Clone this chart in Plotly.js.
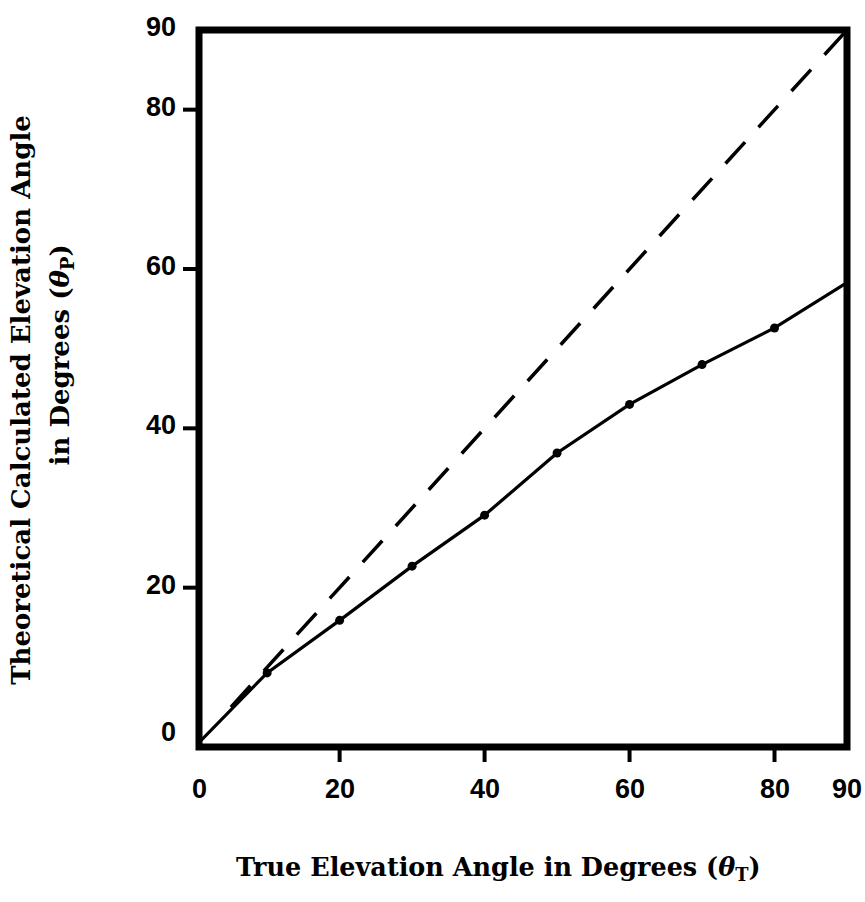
<!DOCTYPE html>
<html>
<head>
<meta charset="utf-8">
<script src="https://cdn.plot.ly/plotly-3.0.1.min.js"></script>
<style>html,body{margin:0;padding:0;background:#fff;}#chart{width:865px;height:902px;}</style>
</head>
<body>
<div id="chart"></div>
<script>
// True elevation angle (deg) and theoretical calculated elevation angle (deg)
var trueAngle = [0, 10, 20, 30, 40, 50, 60, 70, 80, 90];
var calcAngle = [0, 9.3, 15.9, 22.7, 29.1, 36.9, 43.0, 48.0, 52.6, 58.3];
// measured points shown with dots (interior points only)
var dotX = trueAngle.slice(1, -1);
var dotY = calcAngle.slice(1, -1);
// ideal (theta_P = theta_T) dashed reference line
var idealX = [5, 90];
var idealY = [5, 90];
// axis ticks: values with tick marks, and all labelled values
var tickMarkVals = [20, 40, 60, 80];
var tickLabelVals = [0, 20, 40, 60, 80, 90];

var tickFont = {family: 'Liberation Sans, Arial, sans-serif', size: 27, color: '#000', weight: 'bold'};
var titleFont = {family: 'DejaVu Serif, serif', size: 26, color: '#000', weight: 'bold'};
var xTitleFont = {family: 'DejaVu Serif, serif', size: 25.5, color: '#000', weight: 'bold'};

var xRange = [0.6, 90];
var yRange = [0, 90];
var W = 865, H = 902;
var margin = {l: 199, r: 18, t: 30, b: 155};
var plotW = W - margin.l - margin.r;
var plotH = H - margin.t - margin.b;

// tick mark centres, just outside the frame (offset converted from pixels to axis units)
var xTickY = tickMarkVals.map(function () { return yRange[0] - 9 * (yRange[1] - yRange[0]) / plotH; });
var yTickX = tickMarkVals.map(function () { return xRange[0] - 10 * (xRange[1] - xRange[0]) / plotW; });

var traces = [
  {x: idealX, y: idealY, mode: 'lines',
   line: {color: '#000', width: 3.5, dash: '29px,20px'}, hoverinfo: 'skip', showlegend: false},
  {x: trueAngle, y: calcAngle, mode: 'lines',
   line: {color: '#000', width: 3.2}, showlegend: false},
  {x: dotX, y: dotY, mode: 'markers',
   marker: {color: '#000', size: 9, symbol: 'circle'}, showlegend: false},
  {x: tickMarkVals, y: xTickY, mode: 'markers', cliponaxis: false, hoverinfo: 'skip',
   marker: {symbol: 'line-ns', size: 13, color: '#000', line: {color: '#000', width: 4}},
   showlegend: false},
  {x: yTickX, y: tickMarkVals, mode: 'markers', cliponaxis: false, hoverinfo: 'skip',
   marker: {symbol: 'line-ew', size: 14, color: '#000', line: {color: '#000', width: 4}},
   showlegend: false}
];

var annotations = [
  {text: 'Theoretical Calculated Elevation Angle', xref: 'paper', yref: 'paper',
   x: -0.275, y: 0.484, xanchor: 'center', yanchor: 'middle', textangle: -90,
   showarrow: false, font: titleFont},
  {text: 'in Degrees (<i>θ</i><sub>P</sub>)', xref: 'paper', yref: 'paper',
   x: -0.212, y: 0.547, xanchor: 'center', yanchor: 'middle', textangle: -90,
   showarrow: false, font: titleFont},
  {text: 'True Elevation Angle in Degrees (<i>θ</i><sub>T</sub>)', xref: 'paper', yref: 'paper',
   x: 0.462, y: -0.17, xanchor: 'center', yanchor: 'middle',
   showarrow: false, font: xTitleFont}
];

// tick labels, placed through the axis scales (axis ends via paper coordinates)
tickLabelVals.forEach(function (v) {
  var inX = v >= xRange[0] && v <= xRange[1];
  annotations.push({text: String(v),
    xref: inX ? 'x' : 'paper', x: inX ? v : 0,
    yref: 'paper', y: 0, xanchor: 'center', yanchor: 'middle', yshift: -42,
    showarrow: false, font: tickFont});
  annotations.push({text: String(v),
    xref: 'paper', x: 0, yref: 'y', y: v,
    xanchor: 'right', yanchor: 'middle', xshift: -21, yshift: v === 0 ? 15 : 3,
    showarrow: false, font: tickFont});
});

// tick marks as shapes too (outside the frame) at the marked values
var xTickLen = 15 / plotH, yTickLen = 16 / plotW;
var shapes = [];
tickMarkVals.forEach(function (v) {
  var px = (v - xRange[0]) / (xRange[1] - xRange[0]);
  var py = (v - yRange[0]) / (yRange[1] - yRange[0]);
  shapes.push({type: 'line', xref: 'paper', yref: 'paper', x0: px, x1: px,
    y0: 0, y1: -xTickLen, line: {color: '#000', width: 4}, layer: 'above'});
  shapes.push({type: 'line', xref: 'paper', yref: 'paper', y0: py, y1: py,
    x0: 0, x1: -yTickLen, line: {color: '#000', width: 4}, layer: 'above'});
});
// heavy frame around the plot area
shapes.push({type: 'rect', xref: 'paper', yref: 'paper', x0: 0, x1: 1, y0: 0, y1: 1,
  line: {color: '#000', width: 7}, layer: 'above'});

var layout = {
  width: W, height: H,
  margin: margin,
  paper_bgcolor: '#fff', plot_bgcolor: '#fff',
  showlegend: false,
  xaxis: {range: xRange, showticklabels: false, ticks: '', showline: false,
          showgrid: false, zeroline: false, fixedrange: true},
  yaxis: {range: yRange, showticklabels: false, ticks: '', showline: false,
          showgrid: false, zeroline: false, fixedrange: true},
  shapes: shapes,
  annotations: annotations
};

Plotly.newPlot('chart', traces, layout, {displayModeBar: false, staticPlot: true});
</script>
</body>
</html>
